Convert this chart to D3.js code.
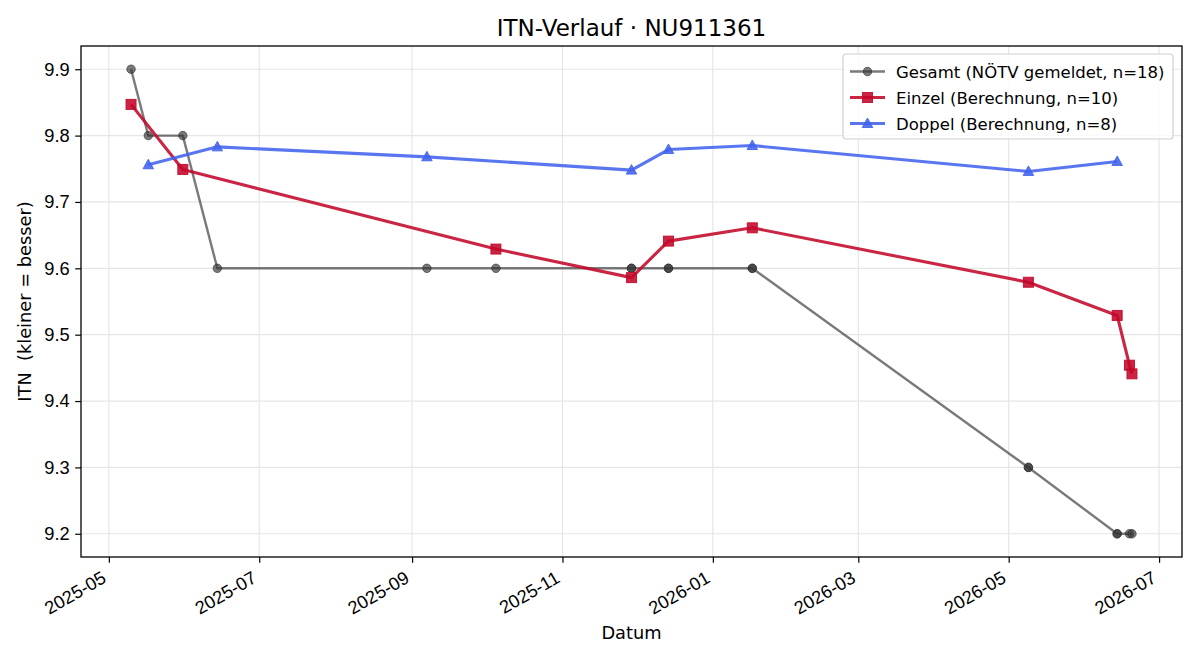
<!DOCTYPE html>
<html>
<head>
<meta charset="utf-8">
<script src="https://cdn.jsdelivr.net/npm/d3@7"></script>
<style>
  body { margin: 0; background: #fff; }
  svg { font-family: "DejaVu Sans", sans-serif; }
</style>
</head>
<body>
<div id="chart"></div>
<script>
// Series data
const gesamtDates = ["2025-05-10", "2025-05-17", "2025-05-31", "2025-06-14", "2025-09-07", "2025-10-05",
  "2025-11-29", "2025-11-29", "2025-12-14", "2025-12-14", "2026-01-17", "2026-01-17",
  "2026-05-09", "2026-05-09", "2026-06-14", "2026-06-14", "2026-06-19", "2026-06-20"];
const gesamtValues = [9.9, 9.8, 9.8, 9.6, 9.6, 9.6, 9.6, 9.6, 9.6, 9.6, 9.6, 9.6, 9.3, 9.3, 9.2, 9.2, 9.2, 9.2];

const einzelDates = ["2025-05-10", "2025-05-31", "2025-10-05", "2025-11-29", "2025-12-14",
  "2026-01-17", "2026-05-09", "2026-06-14", "2026-06-19", "2026-06-20"];
const einzelValues = [9.847, 9.749, 9.629, 9.586, 9.641, 9.661, 9.579, 9.529, 9.454, 9.441];

const doppelDates = ["2025-05-17", "2025-06-14", "2025-09-07", "2025-11-29", "2025-12-14",
  "2026-01-17", "2026-05-09", "2026-06-14"];
const doppelValues = [9.756, 9.783, 9.768, 9.748, 9.779, 9.785, 9.746, 9.761];

const yTicks = [9.2, 9.3, 9.4, 9.5, 9.6, 9.7, 9.8, 9.9];
const legendLabels = ["Gesamt (NÖTV gemeldet, n=18)", "Einzel (Berechnung, n=10)", "Doppel (Berechnung, n=8)"];

const width = 1200, height = 660;
const margin = { top: 46, right: 18, bottom: 103, left: 81 };
const parse = d3.utcParse("%Y-%m-%d");

const zip = (ds, vs) => ds.map((d, i) => ({ date: parse(d), value: vs[i] }));
const series = [
  { name: legendLabels[0], data: zip(gesamtDates, gesamtValues), color: "#333333", alpha: 0.65, width: 2.4, marker: "circle", size: 8.5 },
  { name: legendLabels[1], data: zip(einzelDates, einzelValues), color: "#c3082a", alpha: 0.88, width: 3.1, marker: "square", size: 10 },
  { name: legendLabels[2], data: zip(doppelDates, doppelValues), color: "#4263ee", alpha: 0.88, width: 3.1, marker: "triangle", size: 10 }
];

const svg = d3.select("#chart").append("svg")
  .attr("width", width)
  .attr("height", height);

// matplotlib-like 5% margins
const allDates = series.flatMap(s => s.data.map(d => d.date));
const allVals = series.flatMap(s => s.data.map(d => d.value));
const [dMin, dMax] = d3.extent(allDates);
const dPad = (dMax - dMin) * 0.05;
const [vMin, vMax] = d3.extent(allVals);
const vPad = (vMax - vMin) * 0.05;

const x = d3.scaleUtc()
  .domain([new Date(+dMin - dPad), new Date(+dMax + dPad)])
  .range([margin.left, width - margin.right]);
const y = d3.scaleLinear()
  .domain([vMin - vPad, vMax + vPad])
  .range([height - margin.bottom, margin.top]);

const xTicks = x.ticks(d3.utcMonth.every(2));

// Grid
const grid = svg.append("g");
grid.selectAll(".gx").data(xTicks).enter().append("line")
  .attr("x1", d => x(d)).attr("x2", d => x(d))
  .attr("y1", margin.top).attr("y2", height - margin.bottom)
  .attr("stroke", "#e6e6e6").attr("stroke-width", 1.2);
grid.selectAll(".gy").data(yTicks).enter().append("line")
  .attr("x1", margin.left).attr("x2", width - margin.right)
  .attr("y1", d => y(d)).attr("y2", d => y(d))
  .attr("stroke", "#e6e6e6").attr("stroke-width", 1.2);

// Marker drawing
function marker(sel, s) {
  const h = s.size / 2;
  if (s.marker === "circle") {
    sel.append("circle").attr("r", h);
  } else if (s.marker === "square") {
    sel.append("rect").attr("x", -h).attr("y", -h).attr("width", s.size).attr("height", s.size);
  } else {
    sel.append("path").attr("d", `M0,${-h * 1.1}L${h * 1.05},${h * 0.8}L${-h * 1.05},${h * 0.8}Z`);
  }
}

const line = d3.line().x(d => x(d.date)).y(d => y(d.value));

series.forEach(s => {
  const g = svg.append("g");
  g.append("path")
    .datum(s.data)
    .attr("d", line)
    .attr("fill", "none")
    .attr("stroke", s.color)
    .attr("stroke-opacity", s.alpha)
    .attr("stroke-width", s.width)
    .attr("stroke-linejoin", "round");
  g.selectAll(".m").data(s.data).enter().append("g")
    .attr("transform", d => `translate(${x(d.date)},${y(d.value)})`)
    .each(function () { marker(d3.select(this), s); })
    .selectAll("*")
    .attr("fill", s.color)
    .attr("fill-opacity", s.alpha)
    .attr("stroke", s.color)
    .attr("stroke-opacity", s.alpha)
    .attr("stroke-width", 1);
});

// Frame
svg.append("rect")
  .attr("x", margin.left).attr("y", margin.top)
  .attr("width", width - margin.left - margin.right)
  .attr("height", height - margin.top - margin.bottom)
  .attr("fill", "none").attr("stroke", "#000").attr("stroke-width", 1.3);

// X axis
const xAxis = svg.append("g")
  .attr("transform", `translate(0,${height - margin.bottom})`)
  .call(d3.axisBottom(x).tickValues(xTicks).tickFormat(d3.utcFormat("%Y-%m")).tickSizeOuter(0).tickSize(5.8));
xAxis.select(".domain").remove();
xAxis.selectAll(".tick line").attr("stroke", "#000").attr("stroke-width", 1.2);
xAxis.selectAll(".tick text")
  .attr("font-size", 18.3)
  .attr("fill", "#000")
  .attr("text-anchor", "end")
  .attr("dy", null)
  .attr("y", 0)
  .attr("transform", "translate(-2,24.5) rotate(-30)");

// Y axis
const yAxis = svg.append("g")
  .attr("transform", `translate(${margin.left},0)`)
  .call(d3.axisLeft(y).tickValues(yTicks).tickFormat(d3.format(".1f")).tickSizeOuter(0).tickSize(5.8).tickPadding(5.5));
yAxis.select(".domain").remove();
yAxis.selectAll(".tick line").attr("stroke", "#000").attr("stroke-width", 1.2);
yAxis.selectAll(".tick text").attr("font-size", 18.3).attr("fill", "#000");

// Labels
const cx = (margin.left + width - margin.right) / 2;
svg.append("text")
  .attr("x", cx).attr("y", 36)
  .attr("text-anchor", "middle")
  .attr("font-size", 23)
  .text("ITN-Verlauf · NU911361");
svg.append("text")
  .attr("x", cx).attr("y", 639)
  .attr("text-anchor", "middle")
  .attr("font-size", 17.8)
  .text("Datum");
svg.append("text")
  .attr("transform", `translate(31,${(margin.top + height - margin.bottom) / 2}) rotate(-90)`)
  .attr("text-anchor", "middle")
  .attr("font-size", 17.8)
  .attr("xml:space", "preserve")
  .style("white-space", "pre")
  .text("ITN  (kleiner = besser)");

// Legend
const legend = svg.append("g").attr("transform", "translate(843,54)");
legend.append("rect")
  .attr("width", 330).attr("height", 85)
  .attr("rx", 3)
  .attr("fill", "#fff").attr("fill-opacity", 0.8)
  .attr("stroke", "#d0d0d0").attr("stroke-width", 1.2);
series.forEach((s, i) => {
  const row = legend.append("g").attr("transform", `translate(0,${17.5 + i * 26})`);
  row.append("line")
    .attr("x1", 7).attr("x2", 42)
    .attr("stroke", s.color).attr("stroke-opacity", s.alpha)
    .attr("stroke-width", s.width);
  const m = row.append("g").attr("transform", "translate(24.5,0)");
  marker(m, s);
  m.selectAll("*")
    .attr("fill", s.color).attr("fill-opacity", s.alpha)
    .attr("stroke", s.color).attr("stroke-opacity", s.alpha).attr("stroke-width", 1);
  row.append("text")
    .attr("x", 53).attr("y", 6)
    .attr("font-size", 16.5)
    .text(s.name);
});
</script>
</body>
</html>
